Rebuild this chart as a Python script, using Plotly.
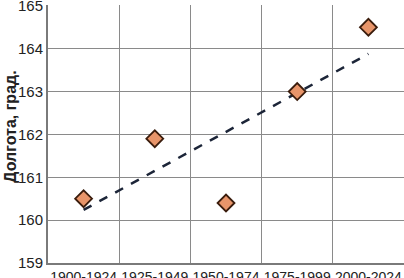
import numpy as np
import plotly.graph_objects as go

categories = ["1900-1924", "1925-1949", "1950-1974", "1975-1999", "2000-2024"]
values = [160.5, 161.9, 160.4, 163.0, 164.5]
y_ticks = [159, 160, 161, 162, 163, 164, 165]
y_title = "Долгота, град."

idx = np.arange(len(values))
k, b = np.polyfit(idx, values, 1)
trend = (k * idx + b).tolist()

fig = go.Figure()
fig.add_trace(go.Scatter(
    x=categories, y=trend, mode="lines",
    line=dict(color="#1c2538", width=2.5, dash="dash"),
    showlegend=False, hoverinfo="skip"))
fig.add_trace(go.Scatter(
    x=categories, y=values, mode="markers",
    marker=dict(symbol="diamond", size=13, color="#e8956a",
                line=dict(color="#3a1c0c", width=1.8)),
    showlegend=False))

fig.add_annotation(text="<b>" + y_title + "</b>", xref="paper", yref="paper",
                   x=-0.105, y=0.53, xanchor="center", yanchor="middle",
                   textangle=-90, showarrow=False,
                   font=dict(size=16, color="#222"))

fig.update_layout(
    width=404, height=278,
    margin=dict(l=48, r=0, t=5, b=15),
    plot_bgcolor="white", paper_bgcolor="white",
    font=dict(family="Liberation Sans, Arial, sans-serif", color="#222"),
    xaxis=dict(type="category", tickson="boundaries", range=[-0.5, 4.5],
               showgrid=True, gridcolor="#8a8a8a", gridwidth=1,
               showline=True, linecolor="#7a7a7a", linewidth=2,
               ticks="", tickangle=0, automargin=False, ticklabelstandoff=0,
               ticklabeloverflow="allow",
               tickfont=dict(size=14, color="#222"), zeroline=False),
    yaxis=dict(range=[159, 165.02], tickvals=y_ticks,
               showgrid=True, gridcolor="#8a8a8a", gridwidth=1,
               showline=True, linecolor="#7a7a7a", linewidth=2,
               ticks="", automargin=False, ticklabeloverflow="allow",
               tickfont=dict(size=15, color="#222"), zeroline=False),
)
fig.write_html("out.html", config={"displayModeBar": False},
               post_script="document.body.style.margin='0';document.body.style.padding='0';")
